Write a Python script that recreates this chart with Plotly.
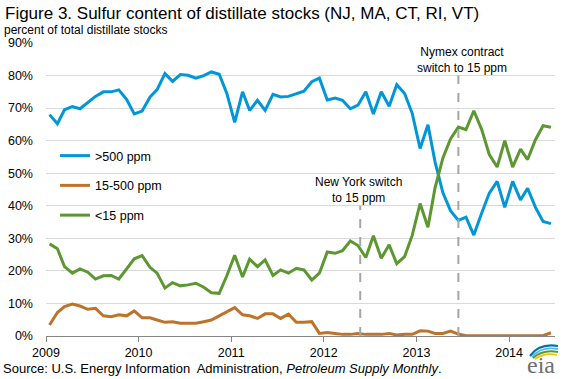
import pandas as pd
import plotly.graph_objects as go

# ---- data (monthly, Jan 2009 - Jun 2014) ----
months = pd.date_range("2009-01-01", "2014-06-01", freq="MS") + pd.Timedelta(days=14)

over_500 = [68.0, 65.2, 69.5, 70.5, 69.8, 71.8, 73.6, 75.0, 75.0, 75.6, 72.6, 68.2,
            69.1, 73.4, 75.7, 80.6, 78.2, 80.3, 80.1, 79.2, 80.0, 81.1, 80.4, 74.5,
            65.6, 75.0, 69.3, 72.4, 69.3, 74.2, 73.4, 73.6, 74.4, 75.2, 78.1, 79.2,
            72.5, 73.1, 72.4, 69.8, 70.9, 75.0, 68.2, 75.0, 70.6, 77.2, 74.5, 68.4,
            57.6, 64.9, 53.5, 44.0, 38.5, 35.5, 36.5, 31.0, 37.8, 43.9, 47.5, 39.5,
            47.5, 41.8, 45.4, 39.5, 35.2, 34.5]
mid_15_500 = [3.4, 7.2, 9.0, 9.8, 9.2, 8.2, 8.5, 6.2, 5.9, 6.5, 6.2, 7.7,
              5.6, 5.6, 4.9, 4.2, 4.4, 3.9, 3.9, 3.9, 4.4, 4.9, 6.2, 7.5,
              8.7, 6.5, 6.2, 5.4, 6.8, 6.8, 5.4, 6.7, 4.2, 4.2, 4.4, 0.8,
              1.1, 0.8, 0.5, 0.5, 0.8, 0.5, 0.5, 0.5, 0.8, 0.3, 0.5, 0.5,
              1.6, 1.5, 0.8, 0.8, 1.5, 0.6, 0.1, 0.1, 0.1, 0.1, 0.1, 0.2,
              0.3, 0.3, 0.2, 0.3, 0.1, 1.0]
under_15 = [28.3, 26.8, 21.3, 19.3, 20.6, 19.6, 17.5, 18.5, 18.6, 17.5, 20.6, 23.7,
            24.7, 21.1, 19.3, 14.7, 16.4, 15.4, 15.7, 16.2, 15.0, 13.3, 13.1, 18.5,
            24.8, 18.1, 23.6, 21.3, 23.4, 18.6, 20.3, 19.3, 20.8, 20.3, 17.2, 19.3,
            25.8, 25.4, 26.2, 29.2, 27.8, 24.1, 30.8, 23.9, 28.0, 22.2, 24.4, 30.9,
            40.7, 33.4, 45.5, 54.7, 60.5, 64.2, 63.4, 69.2, 63.4, 55.7, 51.9, 60.0,
            51.9, 57.4, 54.2, 60.3, 64.6, 64.1]

series_names = [">500 ppm", "15-500 ppm", "<15 ppm"]
series_colors = ["#0096D7", "#BD732A", "#5D9732"]

year_ticks = ["2009-01-01", "2010-01-01", "2011-01-01", "2012-01-01", "2013-01-01", "2014-01-01"]
year_labels = ["2009", "2010", "2011", "2012", "2013", "2014"]

ny_switch = "2012-05-24"
nymex_switch = "2013-06-15"

FONT = "Liberation Sans, Arial, sans-serif"

fig = go.Figure()
for name, vals, col in zip(series_names, [over_500, mid_15_500, under_15], series_colors):
    fig.add_trace(go.Scatter(x=months, y=vals, mode="lines", name=name,
                             legendgroup=name,
                             line=dict(color=col, width=3)))

# event lines
fig.add_shape(type="line", xref="x", yref="y", x0=ny_switch, x1=ny_switch, y0=0, y1=40,
              line=dict(color="#A6A6A6", width=2, dash="dash"))
fig.add_shape(type="line", xref="x", yref="y", x0=nymex_switch, x1=nymex_switch, y0=0, y1=80,
              line=dict(color="#A6A6A6", width=2, dash="dash"))

W, H = 562, 379
ML, MR, MT, MB = 46, 7, 43, 43
PW, PH = W - ML - MR, H - MT - MB


def px(x):
    return (x - ML) / PW


def py(y):
    return (H - MB - y) / PH


ann = []
ann.append(dict(x=ny_switch, y=44.8, xref="x", yref="y", text="New York switch<br>to 15 ppm",
                showarrow=False, font=dict(size=12, color="#000"), xanchor="center", yanchor="middle",
                align="center", xshift=-2))
ann.append(dict(x=nymex_switch, y=84.8, xref="x", yref="y", text="Nymex contract<br>switch to 15 ppm",
                showarrow=False, font=dict(size=12, color="#000"), xanchor="center", yanchor="middle",
                align="center", xshift=4))
ann.append(dict(x=px(3), y=py(13), xref="paper", yref="paper",
                text="Figure 3. Sulfur content of distillate stocks (NJ, MA, CT, RI, VT)",
                showarrow=False, font=dict(size=17, color="#000"), xanchor="left", yanchor="middle"))
ann.append(dict(x=px(2), y=py(29.5), xref="paper", yref="paper",
                text="percent of total distillate stocks",
                showarrow=False, font=dict(size=12, color="#000"), xanchor="left", yanchor="middle"))
ann.append(dict(x=px(1), y=py(368), xref="paper", yref="paper",
                text="Source: U.S. Energy Information  Administration, <i>Petroleum Supply Monthly</i>.",
                showarrow=False, font=dict(size=13, color="#000"), xanchor="left", yanchor="middle"))
ann.append(dict(x=px(541), y=py(365), xref="paper", yref="paper", text="eia",
                showarrow=False, font=dict(size=24, color="#6D6E71", family="Liberation Serif, serif"),
                xanchor="center", yanchor="middle"))
fig.update_layout(annotations=ann)

# logo swooshes
arcs = [("#0073B6", 2.2, (530, 356), (539, 343), (558, 346)),
        ("#54B9E8", 1.8, (532, 357), (541, 346), (558, 349)),
        ("#5D9732", 1.8, (533, 358), (543, 349), (558, 352)),
        ("#F2C500", 1.6, (535, 359), (545, 352), (557, 355))]
for col, w, p0, p1, p2 in arcs:
    path = "M {} {} Q {} {} {} {}".format(px(p0[0]), py(p0[1]), px(p1[0]), py(p1[1]), px(p2[0]), py(p2[1]))
    fig.add_shape(type="path", xref="paper", yref="paper", path=path,
                  line=dict(color=col, width=w))

fig.update_layout(
    width=W, height=H,
    margin=dict(l=ML, r=MR, t=MT, b=MB, pad=0),
    paper_bgcolor="white", plot_bgcolor="white",
    font=dict(family=FONT, size=12, color="#000"),
    showlegend=True,
    legend=dict(x=px(55), y=py(141), xanchor="left", yanchor="top",
                bgcolor="rgba(0,0,0,0)", font=dict(size=12.5), tracegroupgap=10.5,
                itemwidth=30),
    xaxis=dict(type="date", range=["2009-01-01", "2014-07-01"],
               tickmode="array", tickvals=year_ticks, ticktext=year_labels,
               showgrid=False, showline=True, linecolor="#868686", linewidth=1,
               ticks="outside", ticklen=5, tickcolor="#868686",
               tickfont=dict(size=12.5), zeroline=False),
    yaxis=dict(range=[0, 90], dtick=10, ticksuffix="%", showgrid=True,
               gridcolor="#D9D9D9", gridwidth=1, showline=False, zeroline=False,
               ticks="", tickfont=dict(size=12.5), ticklabelstandoff=12),
)

fig.write_html("out.html", config={"displayModeBar": False},
               post_script="document.body.style.margin='0';document.body.style.overflow='hidden';")
